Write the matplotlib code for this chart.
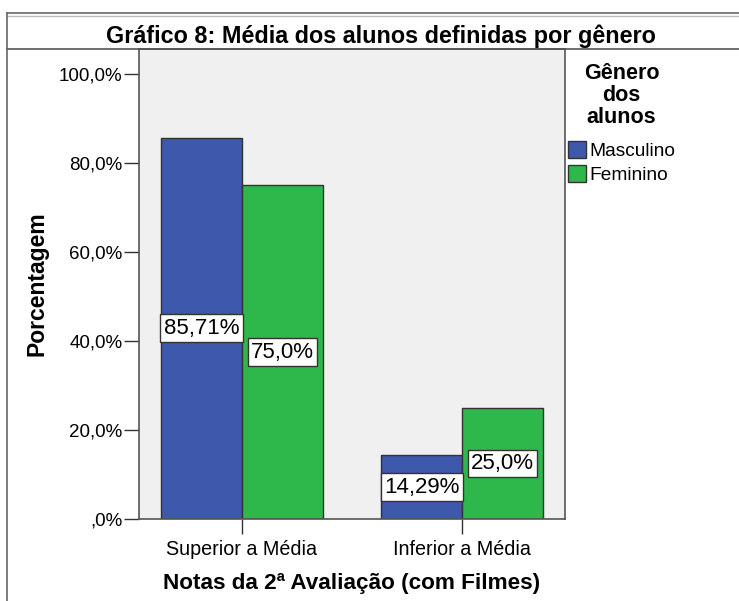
import matplotlib
matplotlib.use("Agg")
import matplotlib.pyplot as plt
import numpy as np
from matplotlib.lines import Line2D
from matplotlib.patches import Patch

plt.rcParams['font.family'] = ['Liberation Sans', 'DejaVu Sans']

categorias = ['Superior a Média', 'Inferior a Média']
series = ['Masculino', 'Feminino']
masculino = [85.71, 14.29]
feminino = [75.0, 25.0]
rotulos_m = ['85,71%', '14,29%']
rotulos_f = ['75,0%', '25,0%']
yticks = [0, 20, 40, 60, 80, 100]
ytick_labels = [',0%', '20,0%', '40,0%', '60,0%', '80,0%', '100,0%']

cor_azul = '#3E58AC'
cor_verde = '#2EB84B'

W, H = 739, 601
fig = plt.figure(figsize=(W / 100, H / 100), dpi=100)

# axes in pixel box: left 139, right 565, top 49, bottom 519
ax = fig.add_axes([139 / W, (H - 519) / H, (565 - 139) / W, (519 - 49) / H])
ax.set_facecolor('#F0F0F0')

x = np.arange(len(categorias))
largura = 0.368
b1 = ax.bar(x - largura / 2, masculino, largura, color=cor_azul,
            edgecolor='#333333', linewidth=1, label=series[0], zorder=2)
b2 = ax.bar(x + largura / 2, feminino, largura, color=cor_verde,
            edgecolor='#333333', linewidth=1, label=series[1], zorder=2)

caixa = dict(boxstyle='square,pad=0.15', facecolor='white', edgecolor='#333333', linewidth=1)
for xi, v, t in zip(x - largura / 2, masculino, rotulos_m):
    ax.text(xi, v / 2, t, ha='center', va='center', fontsize=16, bbox=caixa, zorder=3)
for xi, v, t in zip(x + largura / 2, feminino, rotulos_f):
    ax.text(xi, v / 2, t, ha='center', va='center', fontsize=16, bbox=caixa, zorder=3)

ax.set_xlim(-0.468, 1.468)
ax.set_ylim(0, 105.6)
ax.set_yticks(yticks)
ax.set_yticklabels(ytick_labels, fontsize=13.5)
ax.set_xticks(x)
ax.set_xticklabels(categorias, fontsize=14.2)
ax.tick_params(axis='both', direction='out', length=11, width=1, color='#333333', pad=1)
ax.tick_params(axis='x', pad=4)
for s in ax.spines.values():
    s.set_color('#555555')
    s.set_linewidth(1.2)

ax.set_ylabel('Porcentagem', fontsize=16.5, fontweight='bold', labelpad=7)
ax.set_xlabel('Notas da 2ª Avaliação (com Filmes)', fontsize=16.2, fontweight='bold', labelpad=10)

# title band and frame
fig.text(381 / W, 1 - 36 / H, 'Gráfico 8: Média dos alunos definidas por gênero',
         ha='center', va='center', fontsize=16.8, fontweight='bold')
fig.add_artist(Line2D([7 / W, 1], [1 - 13 / H, 1 - 13 / H], color='#666666', lw=1.2))
fig.add_artist(Line2D([7 / W, 1], [1 - 16 / H, 1 - 16 / H], color='#BBBBBB', lw=1))
fig.add_artist(Line2D([7 / W, 1], [1 - 49 / H, 1 - 49 / H], color='#555555', lw=1.2))
fig.add_artist(Line2D([7 / W, 7 / W], [0, 1 - 13 / H], color='#666666', lw=1.2))

# legend
handles = [Patch(facecolor=cor_azul, edgecolor='#333333'),
           Patch(facecolor=cor_verde, edgecolor='#333333')]
leg = fig.legend(handles, series, loc='upper left', bbox_to_anchor=(568 / W, 1 - 63 / H),
                 title='Gênero\ndos\nalunos', frameon=False, fontsize=13.8,
                 title_fontproperties={'weight': 'bold', 'size': 15.5},
                 handlelength=0.95, handleheight=0.95, handletextpad=0.15,
                 labelspacing=0.25, borderpad=0, borderaxespad=0)
leg.get_title().set_multialignment('center')
leg.get_title().set_linespacing(1.05)
leg._legend_box.align = 'center'
leg._legend_box.sep = 10

fig.savefig('out.png', dpi=100)
